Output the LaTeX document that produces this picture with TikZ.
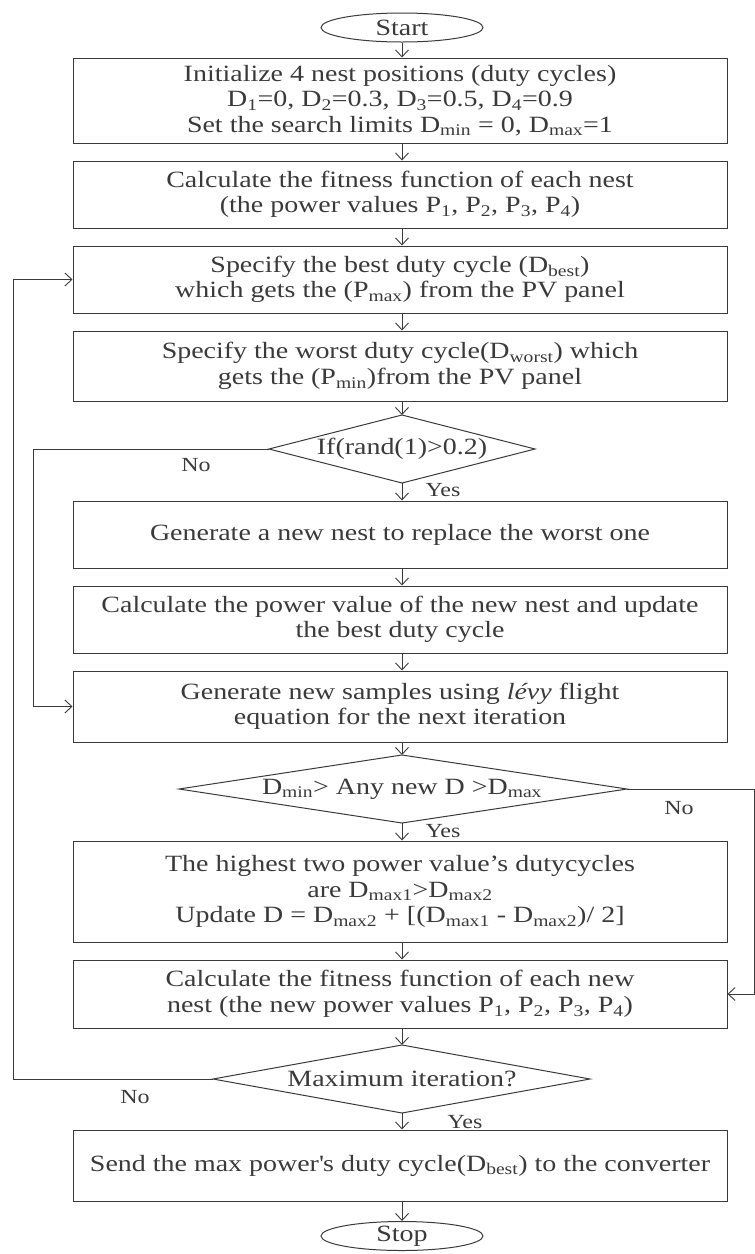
\documentclass[tikz,border=0pt]{standalone}
\usepackage{fontspec}
\setmainfont{Liberation Serif}[FakeStretch=1.2]
\usetikzlibrary{arrows.meta,shapes.geometric}
\definecolor{ink}{HTML}{3A3A3A}
\newcommand\fs{\fontsize{23.3}{25.5}\selectfont}
\newcommand\sub[1]{\textsubscript{#1}}
\begin{document}
\begin{tikzpicture}[x=1pt,y=-1pt,
  box/.style={draw=ink, line width=1pt, minimum width=654pt, inner sep=0pt, align=center, text=ink, font=\fs},
  term/.style={draw=ink, line width=1pt, ellipse, minimum width=162pt, minimum height=29pt, inner sep=0pt, text=ink, font=\fs},
  dtext/.style={inner sep=0pt, text=ink, font=\fs},
  lbl/.style={inner sep=0pt, text=ink, font=\fontsize{20}{22}\selectfont},
  line/.style={draw=ink, line width=1pt},
  arr/.style={line, -{Straight Barb[length=7pt,width=13pt,line width=0.9pt]}}]
\useasboundingbox (0,0) rectangle (755,1254);

\node[term] (start) at (402,27.5) {Start};
\node[box, minimum height=85pt] (b1) at (400,100.5) {Initialize 4 nest positions (duty cycles)\\D\sub{1}=0, D\sub{2}=0.3, D\sub{3}=0.5, D\sub{4}=0.9\\Set the search limits D\sub{min} = 0, D\sub{max}=1};
\node[box, minimum height=67pt] (b2) at (400,194.5) {Calculate the fitness function of each nest\\(the power values P\sub{1}, P\sub{2}, P\sub{3}, P\sub{4})};
\node[box, minimum height=67pt] (b3) at (400,279.5) {Specify the best duty cycle (D\sub{best})\\which gets the (P\sub{max}) from the PV panel};
\node[box, minimum height=70pt] (b4) at (400,366) {Specify the worst duty cycle(D\sub{worst}) which\\gets the (P\sub{min})from the PV panel};

\node[dtext] (d1) at (402,449) {If(rand(1)>0.2)};
\coordinate (d1n) at (402,415);
\coordinate (d1e) at (535,449);
\coordinate (d1s) at (402,483);
\coordinate (d1w) at (269,449);
\draw[line] (d1n) -- (d1e) -- (d1s) -- (d1w) -- cycle;

\node[box, minimum height=67pt] (b5) at (400,534.5) {Generate a new nest to replace the worst one};
\node[box, minimum height=67pt] (b6) at (400,619.5) {Calculate the power value of the new nest and update\\the best duty cycle};
\node[box, minimum height=71pt] (b7) at (400,706.5) {Generate new samples using \textit{lévy} flight\\equation for the next iteration};

\node[dtext] (d2) at (402,789) {D\sub{min}> Any new D >D\sub{max}};
\coordinate (d2n) at (402,755);
\coordinate (d2e) at (627,789);
\coordinate (d2s) at (402,823);
\coordinate (d2w) at (179,789);
\draw[line] (d2n) -- (d2e) -- (d2s) -- (d2w) -- cycle;

\node[box, minimum height=101pt] (b8) at (400,891.5) {The highest two power value's dutycycles\\are D\sub{max1}>D\sub{max2}\\Update D = D\sub{max2} + [(D\sub{max1} - D\sub{max2})/ 2]};
\node[box, minimum height=68pt] (b9) at (400,994) {Calculate the fitness function of each new\\nest (the new power values P\sub{1}, P\sub{2}, P\sub{3}, P\sub{4})};

\node[dtext] (d3) at (402,1079) {Maximum iteration?};
\coordinate (d3n) at (402,1045);
\coordinate (d3e) at (590,1079);
\coordinate (d3s) at (402,1113);
\coordinate (d3w) at (213,1079);
\draw[line] (d3n) -- (d3e) -- (d3s) -- (d3w) -- cycle;

\node[box, minimum height=71pt] (b10) at (400,1165.5) {Send the max power\textquotesingle s duty cycle(D\sub{best}) to the converter};
\node[term] (stop) at (402,1236) {Stop};

% vertical flow
\draw[arr] (start.south) -- (start.south |- b1.north);
\draw[arr] (b1.south -| d1n) -- (b2.north -| d1n);
\draw[arr] (b2.south -| d1n) -- (b3.north -| d1n);
\draw[arr] (b3.south -| d1n) -- (b4.north -| d1n);
\draw[arr] (b4.south -| d1n) -- (d1n);
\draw[arr] (d1s) -- (b5.north -| d1s);
\draw[arr] (b5.south -| d1n) -- (b6.north -| d1n);
\draw[arr] (b6.south -| d1n) -- (b7.north -| d1n);
\draw[arr] (b7.south -| d1n) -- (d2n);
\draw[arr] (d2s) -- (b8.north -| d2s);
\draw[arr] (b8.south -| d1n) -- (b9.north -| d1n);
\draw[arr] (b9.south -| d1n) -- (d3n);
\draw[arr] (d3s) -- (b10.north -| d3s);
\draw[arr] (b10.south -| d1n) -- (stop.north);

% loops
\coordinate (l1) at (13,0);
\coordinate (l2) at (33,0);
\coordinate (r1) at (754,0);
\draw[arr] (d3w) -- (d3w -| l1) |- (b3.west);
\draw[arr] (d1w) -- (d1w -| l2) |- (b7.west);
\draw[arr] (d2e) -- (d2e -| r1) |- (b9.east);

% labels
\node[lbl] (no1) at (196,465) {No};
\node[lbl] (yes1) at (443,490) {Yes};
\node[lbl] (no2) at (679,808) {No};
\node[lbl] (yes2) at (443,831) {Yes};
\node[lbl] (no3) at (135,1097) {No};
\node[lbl] (yes3) at (465,1122) {Yes};
\end{tikzpicture}
\end{document}
